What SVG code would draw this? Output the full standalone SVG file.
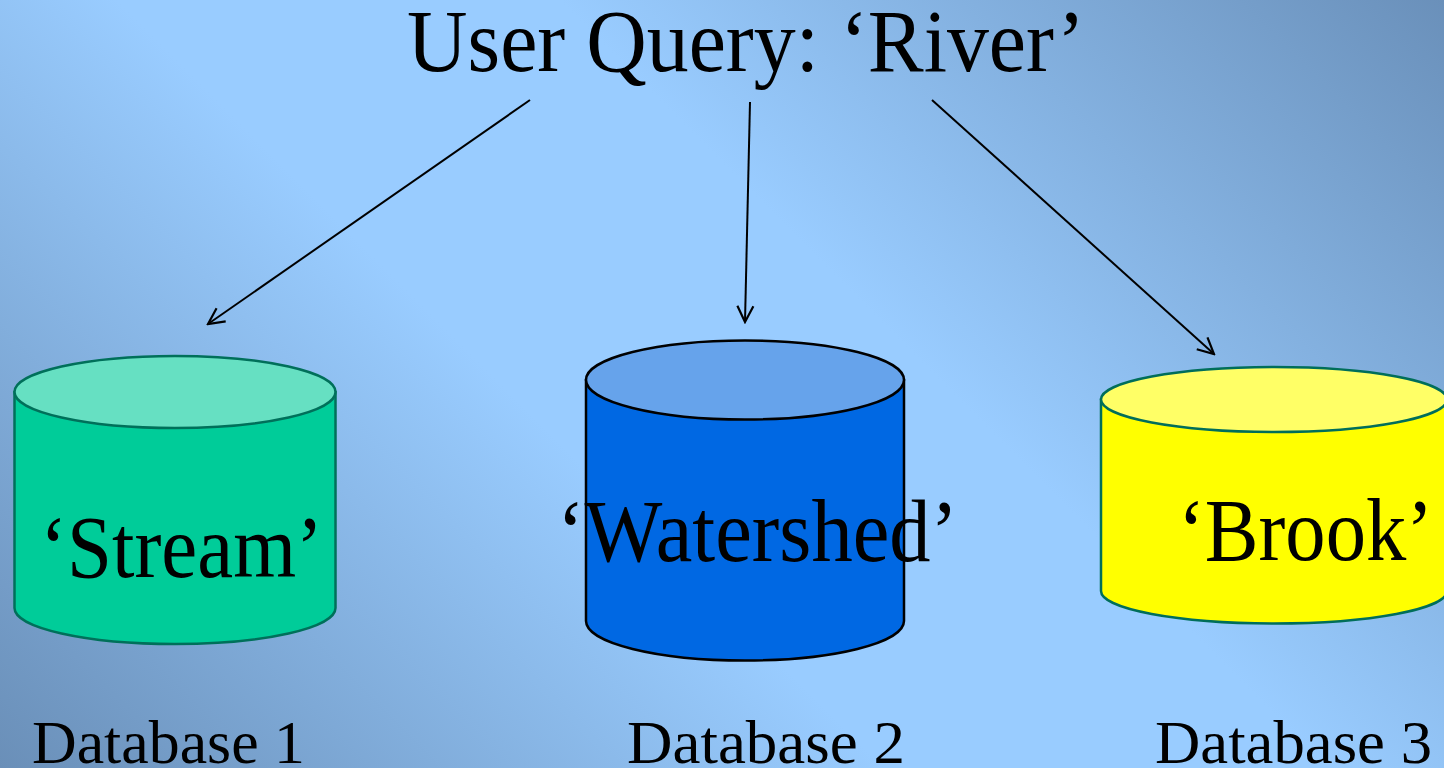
<svg xmlns="http://www.w3.org/2000/svg" width="1444" height="768" viewBox="0 0 1444 768">
  <defs>
    <!-- 45° band: light through the upper-left/centre, darker toward top-right and bottom-left -->
    <linearGradient id="bg" gradientUnits="userSpaceOnUse" x1="0" y1="768" x2="1106" y2="-338">
      <stop offset="0" stop-color="#6a8fb8"/>
      <stop offset="0.4" stop-color="#99ccff"/>
      <stop offset="0.6" stop-color="#99ccff"/>
      <stop offset="1" stop-color="#6a90ba"/>
    </linearGradient>
    <marker id="arrow" viewBox="0 0 20 20" refX="18" refY="10" markerWidth="20" markerHeight="20" markerUnits="userSpaceOnUse" orient="auto">
      <path d="M2,2 L18,10 L2,18" fill="none" stroke="#000" stroke-width="2.2"/>
    </marker>
    <style>
      .t { font-family: "Liberation Serif", "Times New Roman", serif; fill: #000; }
      .title { font-size: 88px; }
      .inner { font-size: 88px; }
      .label { font-size: 62px; }
      .conn line { stroke: #000; stroke-width: 2; marker-end: url(#arrow); }
      .green .body { fill: #00cc99; stroke: #00705a; stroke-width: 2.5; }
      .green .top { fill: #66e0c2; stroke: #00705a; stroke-width: 2.5; }
      .blue .body { fill: #0068e3; stroke: #000; stroke-width: 2.5; }
      .blue .top { fill: #66a3eb; stroke: #000; stroke-width: 2.5; }
      .yellow .body { fill: #ffff00; stroke: #006e5a; stroke-width: 2.5; }
      .yellow .top { fill: #ffff66; stroke: #006e5a; stroke-width: 2.5; }
    </style>
  </defs>

  <rect x="0" y="0" width="1444" height="768" fill="url(#bg)"/>

  <g id="query">
    <text class="t title" x="407" y="71" textLength="678" lengthAdjust="spacingAndGlyphs">User Query: ‘River’</text>
  </g>

  <g id="connectors" class="conn">
    <line x1="530" y1="100" x2="208" y2="324"/>
    <line x1="750" y1="102" x2="745" y2="322"/>
    <line x1="932" y1="100" x2="1214" y2="354"/>
  </g>

  <g id="db1" class="green">
    <path class="body" d="M14.5,392 L14.5,608 A160.5,36 0 0 0 335.5,608 L335.5,392 Z"/>
    <ellipse class="top" cx="175" cy="392" rx="160.5" ry="36"/>
    <text class="t inner" x="40" y="577" textLength="283" lengthAdjust="spacingAndGlyphs">‘Stream’</text>
  </g>

  <g id="db2" class="blue">
    <path class="body" d="M586,380 L586,621 A159,39.5 0 0 0 904,621 L904,380 Z"/>
    <ellipse class="top" cx="745" cy="380" rx="159" ry="39.5"/>
    <text class="t inner" x="557" y="561" textLength="401" lengthAdjust="spacingAndGlyphs">‘Watershed’</text>
  </g>

  <g id="db3" class="yellow">
    <path class="body" d="M1101,399.5 L1101,591 A173,32.5 0 0 0 1447,591 L1447,399.5 Z"/>
    <ellipse class="top" cx="1274" cy="399.5" rx="173" ry="32.5"/>
    <text class="t inner" x="1178" y="560" textLength="255" lengthAdjust="spacingAndGlyphs">‘Brook’</text>
  </g>

  <g id="labels">
    <text class="t label" x="32" y="763" textLength="273" lengthAdjust="spacingAndGlyphs">Database 1</text>
    <text class="t label" x="627" y="763" textLength="278" lengthAdjust="spacingAndGlyphs">Database 2</text>
    <text class="t label" x="1155" y="763" textLength="277" lengthAdjust="spacingAndGlyphs">Database 3</text>
  </g>
</svg>
